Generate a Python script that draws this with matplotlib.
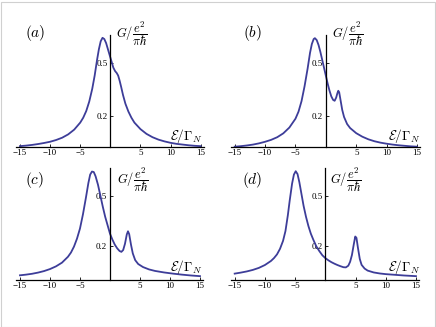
import matplotlib.pyplot as plt
from matplotlib.patches import Rectangle

plt.rcParams['mathtext.fontset'] = 'cm'
plt.rcParams['font.family'] = ['Liberation Serif', 'DejaVu Serif']

# values, energy in units of Gamma_N
energy_a = [-15, -14, -13, -12, -11, -10, -9, -8, -7, -6, -5, -4.5, -4, -3.5, -3, -2.6, -2.2,
            -1.9, -1.6, -1.3, -1.0, -0.7, -0.4, -0.1, 0.2, 0.5, 0.8, 1.05, 1.3, 1.55, 1.8, 2.1,
            2.5, 3, 3.5, 4, 5, 6, 7, 8, 9, 10, 11, 12, 13, 14, 15]
cond_a = [0.028, 0.031, 0.035, 0.040, 0.046, 0.053, 0.063, 0.076, 0.095, 0.122, 0.162, 0.19,
          0.228, 0.282, 0.355, 0.43, 0.52, 0.58, 0.625, 0.645, 0.638, 0.615, 0.58, 0.545, 0.51,
          0.475, 0.455, 0.445, 0.43, 0.40, 0.365, 0.32, 0.27, 0.225, 0.19, 0.162, 0.125, 0.098,
          0.079, 0.065, 0.055, 0.047, 0.041, 0.037, 0.033, 0.030, 0.028]

energy_b = [-15, -14, -13, -12, -11, -10, -9, -8, -7, -6, -5, -4.5, -4, -3.5, -3, -2.6, -2.3,
            -2.0, -1.8, -1.5, -1.2, -0.9, -0.6, -0.3, 0, 0.3, 0.6, 0.9, 1.2, 1.45, 1.7, 1.9,
            2.05, 2.2, 2.4, 2.7, 3, 3.5, 4, 5, 6, 7, 8, 9, 10, 11, 12, 13, 14, 15]
cond_b = [0.026, 0.029, 0.033, 0.038, 0.045, 0.054, 0.065, 0.08, 0.102, 0.135, 0.185, 0.225,
          0.285, 0.37, 0.47, 0.56, 0.61, 0.638, 0.643, 0.632, 0.604, 0.565, 0.52, 0.475, 0.43,
          0.385, 0.345, 0.312, 0.292, 0.287, 0.305, 0.33, 0.344, 0.335, 0.295, 0.235, 0.195,
          0.155, 0.132, 0.103, 0.083, 0.068, 0.057, 0.049, 0.043, 0.038, 0.034, 0.031, 0.028, 0.026]

energy_c = [-15, -14, -13, -12, -11, -10, -9, -8, -7, -6.5, -6, -5.5, -5, -4.5, -4, -3.6, -3.3,
            -3.0, -2.7, -2.4, -2.0, -1.6, -1.2, -0.8, -0.4, 0, 0.4, 0.8, 1.2, 1.6, 1.9, 2.2,
            2.5, 2.8, 3.0, 3.2, 3.5, 3.8, 4.2, 4.7, 5.5, 6.5, 7.5, 9, 10.5, 12, 13.5, 15]
cond_c = [0.028, 0.032, 0.037, 0.044, 0.053, 0.065, 0.081, 0.103, 0.138, 0.163, 0.198, 0.245,
          0.305, 0.39, 0.49, 0.575, 0.625, 0.643, 0.64, 0.615, 0.565, 0.5, 0.435, 0.375, 0.325,
          0.275, 0.24, 0.21, 0.188, 0.172, 0.167, 0.178, 0.215, 0.27, 0.289, 0.272, 0.21, 0.158,
          0.118, 0.095, 0.077, 0.063, 0.054, 0.045, 0.038, 0.032, 0.027, 0.023]

energy_d = [-15, -14, -13, -12, -11, -10, -9, -8.5, -8, -7.5, -7, -6.6, -6.2, -5.9, -5.5, -5.2,
            -4.9, -4.6, -4.3, -4, -3.6, -3.2, -2.8, -2.4, -2, -1.5, -1, -0.5, 0, 0.5, 1, 1.5,
            2, 2.5, 3, 3.4, 3.8, 4.1, 4.4, 4.7, 4.95, 5.15, 5.4, 5.7, 6.0, 6.5, 7, 8, 9, 10,
            11.5, 13, 15]
cond_d = [0.038, 0.044, 0.051, 0.06, 0.072, 0.089, 0.113, 0.13, 0.152, 0.185, 0.232, 0.29,
          0.385, 0.47, 0.572, 0.625, 0.645, 0.628, 0.58, 0.52, 0.44, 0.375, 0.32, 0.275, 0.24,
          0.2, 0.172, 0.147, 0.13, 0.117, 0.106, 0.097, 0.089, 0.082, 0.076, 0.075, 0.085,
          0.108, 0.148, 0.21, 0.258, 0.25, 0.19, 0.125, 0.09, 0.068, 0.056, 0.045, 0.039,
          0.035, 0.031, 0.027, 0.023]

panel_labels = ['(a)', '(b)', '(c)', '(d)']
x_ticks = [-15, -10, -5, 5, 10, 15]
y_ticks = [0.2, 0.5]

W, H = 436, 327
fig = plt.figure(figsize=(W / 100, H / 100), dpi=100)

# axes boxes in pixels: left, top, right, bottom
boxes = [(16, 35, 204, 146.5), (230.7, 35, 420.3, 146.7),
         (16, 168, 203.3, 279.7), (230.7, 168, 419.3, 279.7)]
ylims = [(0.026, 0.661), (0.026, 0.661), (0.002, 0.664), (0.002, 0.664)]
# label anchors in pixels: panel tag centre, G label left, E label right
tag_pos = [(35, 33), (252, 33), (35, 180.5), (252, 180.5)]
g_pos = [(116, 34), (332, 34), (117, 180), (330, 180)]
e_pos = [(203, 136), (421, 136), (203, 267), (421, 267)]

series = [(energy_a, cond_a), (energy_b, cond_b), (energy_c, cond_c), (energy_d, cond_d)]
line_color = '#3d3d99'

for i, (xs, gs) in enumerate(series):
    l, t, r, b = boxes[i]
    ax = fig.add_axes([l / W, 1 - b / H, (r - l) / W, (b - t) / H])
    ax.patch.set_alpha(0)
    ax.plot(xs, gs, color=line_color, lw=1.3, solid_joinstyle='round')
    ax.set_xlim(-15.66, 15.55)
    ax.set_ylim(*ylims[i])
    ax.spines['top'].set_visible(False)
    ax.spines['right'].set_visible(False)
    ax.spines['left'].set_position(('data', 0))
    for s in ('left', 'bottom'):
        ax.spines[s].set_linewidth(0.9)
    ax.set_xticks(x_ticks)
    ax.set_yticks(y_ticks)
    ax.tick_params(direction='in', length=2.5, width=0.6, labelsize=6.5, pad=2)

    tx, ty = tag_pos[i]
    fig.text(tx / W, 1 - ty / H, '$' + panel_labels[i] + '$', fontsize=11,
             ha='center', va='center')
    gx, gy = g_pos[i]
    fig.text(gx / W, 1 - gy / H, r'$G/\dfrac{e^2}{\pi\hbar}$', fontsize=9,
             ha='left', va='center')
    ex, ey = e_pos[i]
    fig.text(ex / W, 1 - ey / H, r'$\mathcal{E}/\Gamma_N$', fontsize=9.5,
             ha='right', va='center')

# light frame round the picture
fig.patches.append(Rectangle((0.5 / W, 0.5 / H), 1 - 2 / W, 1 - 2 / H,
                             transform=fig.transFigure, fill=False,
                             edgecolor='#d0d0d0', lw=0.8))

fig.savefig('out.png', dpi=100)
